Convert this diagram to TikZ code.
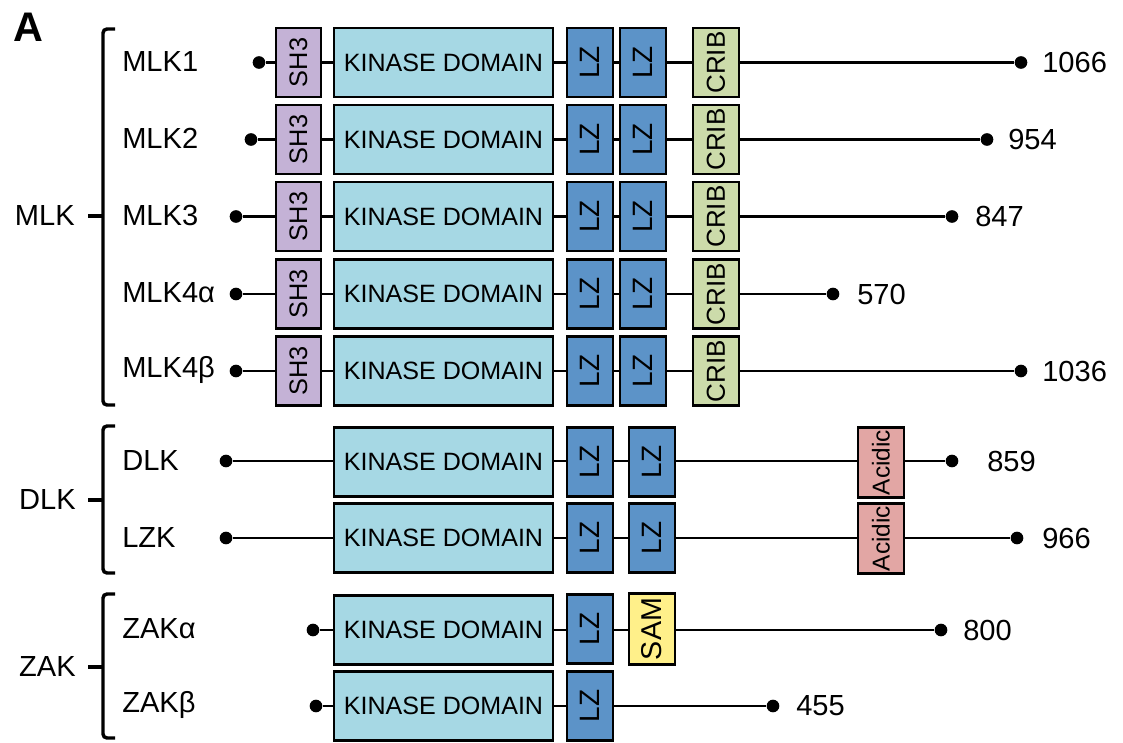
\documentclass[tikz,border=0pt]{standalone}
\usepackage{fontspec}
\setmainfont{Liberation Sans}
\definecolor{sh3c}{RGB}{196,178,214}
\definecolor{kinc}{RGB}{166,216,228}
\definecolor{lzc}{RGB}{92,147,200}
\definecolor{cribc}{RGB}{204,219,170}
\definecolor{acidc}{RGB}{226,166,164}
\definecolor{samc}{RGB}{255,240,138}
\tikzset{
 dom/.style={draw=black, line width=1.7pt, inner sep=0pt, minimum height=51.75pt, font=\fontsize{19}{19}\selectfont},
 shbox/.style={dom, fill=sh3c, minimum width=33.75pt},
 kinbox/.style={dom, fill=kinc, minimum width=164.25pt, font=\fontsize{18.8}{18.8}\selectfont},
 lzbox/.style={dom, fill=lzc, minimum width=34.5pt, font=\fontsize{21}{21}\selectfont},
 cribbox/.style={dom, fill=cribc, minimum width=34.5pt, font=\fontsize{19.5}{19.5}\selectfont},
 acidbox/.style={dom, fill=acidc, minimum width=34.5pt, minimum height=52.5pt, font=\fontsize{18.3}{18.3}\selectfont},
 sambox/.style={dom, fill=samc, minimum width=34.5pt, minimum height=53.25pt, font=\fontsize{21.5}{21.5}\selectfont},
 dotnode/.style={circle, fill=black, inner sep=0pt, minimum size=9.5pt},
 lbl/.style={font=\fontsize{21.8}{21.8}\selectfont, anchor=west, inner sep=0pt},
 conn/.style={line width=1.6pt},
 bracket/.style={line width=2.6pt, rounded corners=3pt},
}
\begin{document}
\begin{tikzpicture}[x=0.75pt,y=-0.75pt]
\useasboundingbox (0,0) rectangle (1123,742);
\node[font=\fontsize{31}{31}\selectfont\bfseries, anchor=north west, inner sep=0pt] (A) at (13,13) {A};
% MLK rows
\foreach \i/\y/\lx/\rx/\nx/\nm/\num in {1/62.5/259/1021/1042/MLK1/1066, 2/139.5/251/987/1008/MLK2/954, 3/216.5/236/952/975/MLK3/847, 4/294/236/833/857/MLK4α/570, 5/371/236/1021/1042/MLK4β/1036}{
 \node[lbl] (n\i) at (122,\y-1) {\nm};
 \node[dotnode] (l\i) at (\lx,\y) {};
 \node[dotnode] (r\i) at (\rx,\y) {};
 \draw[conn] (l\i) -- (r\i);
 \node[shbox] (sh\i) at (298.5,\y) {\rotatebox{90}{SH3}};
 \node[kinbox] (k\i) at (443.5,\y) {KINASE DOMAIN};
 \node[lzbox] (lza\i) at (590,\y) {\rotatebox{90}{LZ}};
 \node[lzbox] (lzb\i) at (643,\y) {\rotatebox{90}{LZ}};
 \node[cribbox] (cr\i) at (716,\y) {\rotatebox{90}{CRIB}};
 \node[lbl] (v\i) at (\nx,\y) {\num};
}
% DLK rows
\foreach \i/\y/\by/\rx/\nx/\nm/\num in {6/461/462/952/987/DLK/859, 7/538/538/1017/1042/LZK/966}{
 \node[lbl] (n\i) at (122,\y-1) {\nm};
 \node[dotnode] (l\i) at (226,\y) {};
 \node[dotnode] (r\i) at (\rx,\y) {};
 \draw[conn] (l\i) -- (r\i);
 \node[kinbox] (k\i) at (443.5,\by) {KINASE DOMAIN};
 \node[lzbox] (lza\i) at (590,\by) {\rotatebox{90}{LZ}};
 \node[lzbox] (lzb\i) at (652,\by) {\rotatebox{90}{LZ}};
 \node[lbl] (v\i) at (\nx,\y) {\num};
}
\node[acidbox] (ac6) at (881,462.5) {\rotatebox{90}{Acidic}};
\node[acidbox] (ac7) at (881,538.5) {\rotatebox{90}{Acidic}};
% ZAK rows
\node[lbl] (n8) at (122,629) {ZAKα};
\node[dotnode] (l8) at (313,630) {};
\node[dotnode] (r8) at (941,630) {};
\draw[conn] (l8) -- (r8);
\node[kinbox] (k8) at (443.5,630) {KINASE DOMAIN};
\node[lzbox] (lza8) at (590,629) {\rotatebox{90}{LZ}};
\node[sambox] (sam8) at (652,629) {\rotatebox{90}{SAM}};
\node[lbl] (v8) at (963,630) {800};
\node[lbl] (n9) at (122,705) {ZAKβ};
\node[dotnode] (l9) at (316,706) {};
\node[dotnode] (r9) at (773,706) {};
\draw[conn] (l9) -- (r9);
\node[kinbox] (k9) at (443.5,706) {KINASE DOMAIN};
\node[lzbox] (lza9) at (590,706) {\rotatebox{90}{LZ}};
\node[lbl] (v9) at (796,706) {455};
% brackets
\draw[bracket] (115,29) -- (103,29) -- (103,405) -- (115,405);
\draw[line width=2.6pt] (103,216) -- (88,216);
\node[lbl, anchor=east] (gMLK) at (75,215) {MLK};
\draw[bracket] (115,426) -- (103,426) -- (103,573) -- (115,573);
\draw[line width=2.6pt] (103,500) -- (88,500);
\node[lbl, anchor=east] (gDLK) at (76,499) {DLK};
\draw[bracket] (115,594) -- (103,594) -- (103,738) -- (115,738);
\draw[line width=2.6pt] (103,667) -- (88,667);
\node[lbl, anchor=east] (gZAK) at (76,666) {ZAK};
\end{tikzpicture}
\end{document}
